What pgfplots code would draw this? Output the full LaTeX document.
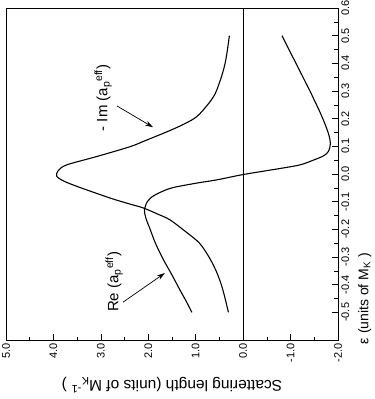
\documentclass[border=0pt]{standalone}
\usepackage{fontspec}
\setmainfont{Liberation Sans}
\usepackage{pgfplots}
\pgfplotsset{compat=1.18}
\usetikzlibrary{arrows.meta}
\begin{document}
\begin{tikzpicture}
\begin{axis}[name=ax, scale only axis, width=332pt, height=332pt,
  x dir=reverse, xmin=-2, xmax=5, ymin=-0.6, ymax=0.6,
  xtick={-2,-1,...,5}, minor x tick num=1,
  ytick={-0.5,-0.4,...,0.61}, minor y tick num=1,
  xtick pos=left, ytick pos=right, tick align=inside,
  major tick length=6pt, minor tick length=3.5pt,
  axis line style={line width=0.7pt},
  every tick/.style={black, line width=0.6pt},
  /pgf/number format/assume math mode=true,
  xticklabel style={rotate=90, anchor=east, font=\fontsize{11}{13}\selectfont,
    /pgf/number format/.cd, fixed, fixed zerofill, precision=1},
  yticklabel style={rotate=90, anchor=north, font=\fontsize{11}{13}\selectfont,
    /pgf/number format/.cd, fixed, fixed zerofill, precision=1},
  clip=false]
\draw[line width=0.6pt] (axis cs:0,-0.6) -- (axis cs:0,0.6);
% -Im(a_p^eff): (a, epsilon)
\addplot[black, line width=1.1pt, smooth, tension=0.5] coordinates {
(0.31,-0.50) (0.38,-0.45) (0.46,-0.40) (0.57,-0.35) (0.72,-0.30) (0.92,-0.25)
(1.20,-0.21) (1.54,-0.166) (1.80,-0.145) (2.10,-0.123) (2.40,-0.108) (2.75,-0.09)
(3.09,-0.07) (3.50,-0.045) (3.79,-0.025) (3.93,-0.008) (3.90,0.012) (3.72,0.033)
(3.09,0.063) (2.38,0.099) (2.03,0.123) (1.60,0.153) (1.25,0.18) (0.98,0.207)
(0.75,0.25) (0.59,0.29) (0.46,0.35) (0.38,0.40) (0.33,0.45) (0.29,0.50)};
% Re(a_p^eff)
\addplot[black, line width=1.1pt, smooth, tension=0.5] coordinates {
(1.08,-0.50) (1.20,-0.46) (1.33,-0.42) (1.50,-0.365) (1.68,-0.31) (1.85,-0.25)
(1.96,-0.20) (2.05,-0.16) (2.08,-0.13) (2.02,-0.10) (1.88,-0.078) (1.54,-0.052)
(1.05,-0.035) (0.55,-0.021) (0.0,-0.002) (-0.78,0.02) (-1.20,0.033) (-1.48,0.05)
(-1.70,0.066) (-1.80,0.082) (-1.84,0.11) (-1.81,0.14) (-1.75,0.17) (-1.68,0.20)
(-1.59,0.235) (-1.50,0.267) (-1.41,0.30) (-1.32,0.33) (-1.15,0.388) (-0.98,0.445) (-0.82,0.50)};
\node[rotate=90, font=\fontsize{15}{18}\selectfont] at (axis cs:2.95,0.275)
  {- Im (a\textsubscript{p}\textsuperscript{eff})};
\draw[line width=0.7pt, -{Stealth[length=8pt,width=5pt]}] (axis cs:2.66,0.246) -- (axis cs:1.90,0.169);
\node[rotate=90, font=\fontsize{15}{18}\selectfont] at (axis cs:2.72,-0.39)
  {Re (a\textsubscript{p}\textsuperscript{eff})};
\draw[line width=0.7pt, -{Stealth[length=8pt,width=5pt]}] (axis cs:2.53,-0.463) -- (axis cs:1.65,-0.358);
\node[rotate=180, font=\fontsize{15.5}{18}\selectfont] at ([yshift=-45pt]rel axis cs:0.5,0)
  {Scattering length (units of M\textsubscript{K}\textsuperscript{-1} )};
\node[rotate=90, anchor=north, inner sep=1pt, font=\fontsize{14}{16}\selectfont] at ([xshift=19pt]axis cs:-2,-0.45)
  {ε (units of M\textsubscript{K} )};
\end{axis}
\pgfresetboundingbox
\path[use as bounding box] ([shift={(-6pt,-59pt)}]ax.south west) rectangle ([shift={(37pt,8pt)}]ax.north east);
\end{tikzpicture}
\end{document}
